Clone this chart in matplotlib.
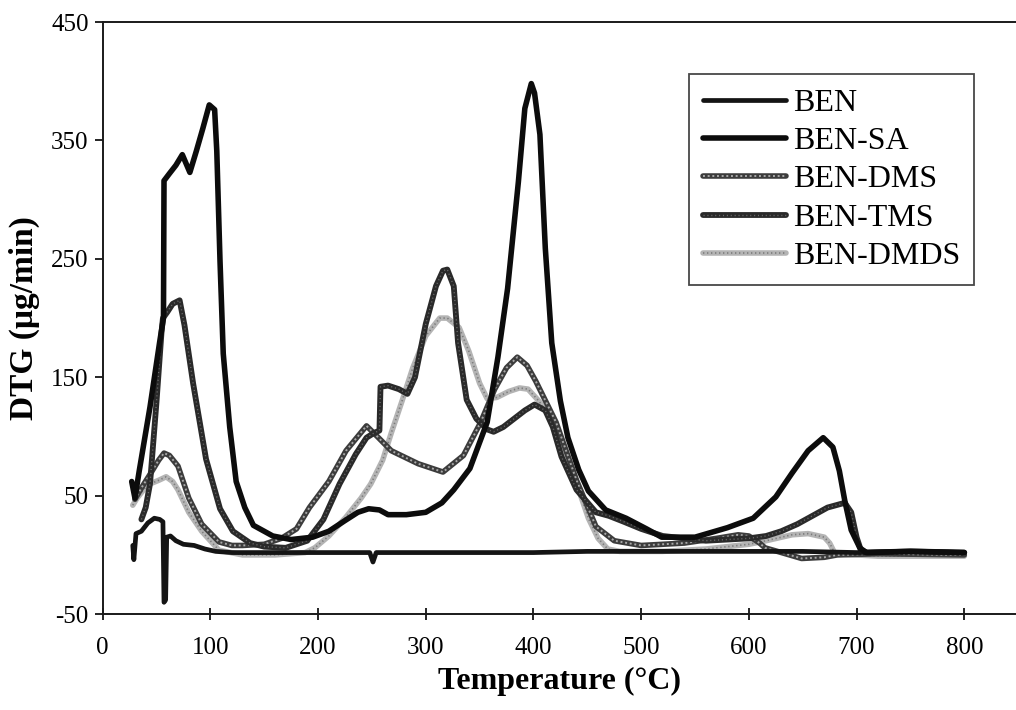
import numpy as np
import matplotlib
matplotlib.use("Agg")
import matplotlib.pyplot as plt

plt.rcParams['font.family'] = ['Liberation Serif', 'DejaVu Serif']
plt.rcParams['axes.unicode_minus'] = False

# ---- data (temperature in degC, DTG in ug/min) ----
ben_t = [28, 29, 31, 36, 42, 48, 53, 56, 57, 58.5, 59.5, 63, 68, 75, 85, 95, 105, 120,
         150, 200, 248, 251, 254, 300, 350, 400, 450, 500, 550, 600, 650, 700, 750, 800]
ben_v = [8, -4, 18, 20, 27, 31, 30, 28, -40, -38, 15, 16, 12, 9, 8, 5, 3, 2,
         2, 2, 2, -6, 2, 2, 2, 2, 3, 3, 3, 3, 3, 2, 3, 2]

sa_t = [27, 30, 34, 44, 53, 56.5, 57, 62, 68, 74, 81, 87, 93, 99, 104, 106, 109, 112,
        118, 124, 132, 140, 158, 175, 195, 210, 225, 237, 247, 257, 265, 282, 300, 315,
        326, 341, 350, 357, 367, 376, 386, 392, 398, 401, 406, 411, 417, 425, 432, 442,
        451, 467, 486, 505, 519, 550, 580, 604, 625, 640, 655, 669, 678, 684, 689, 695,
        703, 709, 750, 800]
sa_v = [62, 48, 71, 125, 180, 200, 316, 322, 329, 338, 323, 341, 360, 380, 376, 341, 248, 170,
        108, 62, 40, 25, 16, 13, 15, 20, 29, 36, 39, 38, 34, 34, 36, 44,
        55, 73, 95, 112, 167, 225, 315, 377, 398, 390, 355, 259, 179, 130, 99, 72,
        54, 38, 31, 22, 15, 15, 23, 31, 49, 69, 88, 99, 91, 71, 46, 21,
        6, 2, 3, 2]

dms_t = [30, 37, 44, 52, 57, 62, 70, 80, 92, 108, 120, 130, 150, 166, 180, 192, 210, 226,
         245, 255, 268, 293, 316, 335, 351, 364, 375, 385, 394, 402, 421, 440, 458, 475,
         500, 540, 570, 590, 600, 610, 615, 634, 649, 670, 682, 720, 800]
dms_v = [47, 58, 68, 80, 86, 84, 75, 48, 26, 11, 8, 8, 9, 14, 22, 40, 62, 88,
         109, 100, 88, 77, 70, 84, 112, 140, 158, 167, 160, 147, 112, 63, 24, 12,
         8, 10, 14, 17, 16, 10, 6, 1, -3, -2, 0, 1, 0]

tms_t = [36, 40, 44, 50, 54.6, 56, 60, 65, 71.5, 76, 84, 96, 109, 121, 137, 150, 170, 190,
         205, 220, 235, 245, 252, 257, 258, 265, 275, 283, 290, 300, 309.5, 316, 320, 326,
         330, 338, 347, 357, 363, 372, 382, 392, 401, 411, 418, 426, 440, 458, 470, 484,
         500, 520, 560, 600, 616, 630, 645, 655, 665, 673, 681, 689, 695, 700, 704, 710,
         750, 800]
tms_v = [30, 40, 60, 129, 187, 200, 205, 212, 215, 194, 145, 81, 39, 20, 10, 7, 6, 12,
         30, 60, 85, 99, 103, 105, 142, 143, 140, 136, 150, 195, 227, 240, 241, 227,
         179, 131, 115, 106, 104, 108, 115, 122, 127, 122, 108, 83, 55, 36, 33, 28,
         22, 16, 12, 14, 16, 20, 26, 31, 36, 40, 42, 44, 36, 15, 4, 2,
         3, 2]

dmds_t = [28, 32, 38, 44, 52, 59, 65, 70, 80, 92, 108, 130, 160, 188, 197, 210, 226, 240,
          249, 260, 268, 278, 288, 300, 313, 320, 331, 340, 350, 357, 366, 377, 387, 395,
          405, 414, 425, 432, 442, 451, 460, 469, 480, 520, 560, 600, 616, 640, 655, 665,
          670, 675, 680, 720, 800]
dmds_v = [42, 48, 55, 60, 63, 66, 62, 55, 36, 20, 4, 0, 0, 2, 6, 16, 32, 48,
          60, 80, 103, 130, 158, 185, 200, 200, 192, 172, 145, 132, 133, 138, 141, 140,
          130, 118, 98, 79, 55, 31, 14, 5, 3, 3, 5, 9, 12, 17, 18, 16,
          15, 10, 1, -1, -1]

labels = ["BEN", "BEN-SA", "BEN-DMS", "BEN-TMS", "BEN-DMDS"]
x_ticks = [0, 100, 200, 300, 400, 500, 600, 700, 800]
y_ticks = [-50, 50, 150, 250, 350, 450]

fig = plt.figure(figsize=(10.16, 7.10), dpi=100)
ax = fig.add_axes([0.101, 0.135, 0.899, 0.834])

def draw(t, v, base_col, lw, over_col=None, over_ls=None, over_lw=1.2):
    base, = ax.plot(t, v, color=base_col, lw=lw, solid_joinstyle='round',
                    solid_capstyle='round')
    if over_col is None:
        return base
    over, = ax.plot(t, v, color=over_col, lw=over_lw, ls=over_ls)
    return (base, over)

# draw back to front roughly like the scan
h_dmds = draw(dmds_t, dmds_v, '#b4b4b4', 4.0, '#7c7c7c', (0, (0.8, 1.6)), 1.2)
h_dms = draw(dms_t, dms_v, '#3c3c3c', 4.0, '#a8a8a8', (0, (1.0, 1.4)), 1.4)
h_tms = draw(tms_t, tms_v, '#2a2a2a', 4.2, '#6a6a6a', (0, (0.8, 2.0)), 1.0)
h_ben = draw(ben_t, ben_v, '#141414', 3.4)
h_sa = draw(sa_t, sa_v, '#0c0c0c', 4.0)

ax.set_xlim(0, 848)
ax.set_ylim(-50, 450)
ax.set_xticks(x_ticks)
ax.set_yticks(y_ticks)
ax.tick_params(axis='x', direction='inout', length=9, width=1.2, pad=12, labelsize=18)
ax.tick_params(axis='y', direction='out', length=6, width=1.2, pad=4, labelsize=18)
ax.spines['right'].set_visible(False)
for s in ['left', 'bottom', 'top']:
    ax.spines[s].set_linewidth(1.4)
    ax.spines[s].set_color('#1a1a1a')

ax.set_xlabel("Temperature (°C)", fontsize=23, fontweight='bold', labelpad=6)
ax.set_ylabel("DTG (μg/min)", fontsize=24, fontweight='bold', labelpad=8)

leg = ax.legend([h_ben, h_sa, h_dms, h_tms, h_dmds], labels,
                loc='upper left', bbox_to_anchor=(0.642, 0.912), fontsize=23,
                frameon=True, fancybox=False, edgecolor='#1a1a1a',
                handlelength=2.6, handletextpad=0.2, labelspacing=0.28,
                borderpad=0.45, borderaxespad=0)
leg.get_frame().set_linewidth(1.3)

fig.savefig("out.png", dpi=100, facecolor='white')
